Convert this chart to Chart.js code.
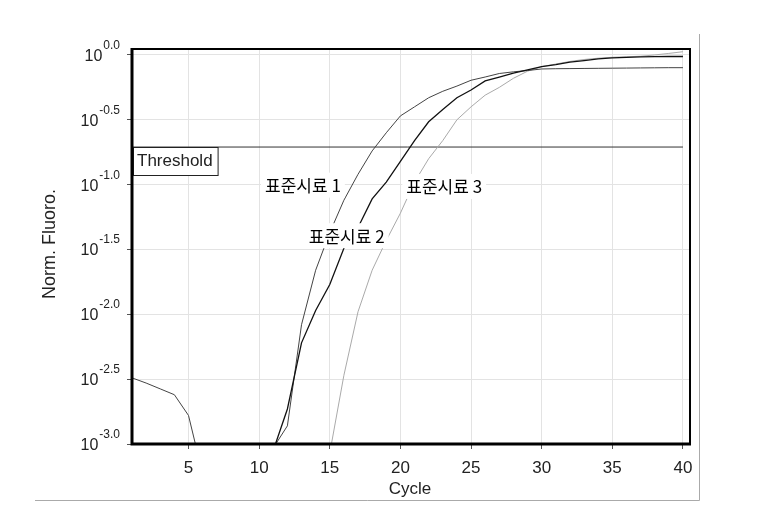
<!DOCTYPE html>
<html>
<head>
<meta charset="utf-8">
<script src="https://cdn.jsdelivr.net/npm/chart.js@4"></script>
<style>
  html, body { margin: 0; padding: 0; background: #fff; }
</style>
</head>
<body>
<canvas id="grafico" width="769" height="513"></canvas>
<script>
// ciclos e valores (log10 da fluorescência normalizada)
const cycles = [1, 2, 3, 4, 5, 6, 7, 8, 9, 10, 11, 12, 13, 14, 15, 16, 17, 18, 19, 20,
  21, 22, 23, 24, 25, 26, 27, 28, 29, 30, 31, 32, 33, 34, 35, 36, 37, 38, 39, 40];

const amostra1 = [-2.49, -2.53, -2.575, -2.62, -2.78, -3.23, null, null, null, null,
  -3.03, -2.86, -2.08, -1.66, -1.37, -1.12, -0.92, -0.74, -0.60, -0.47,
  -0.40, -0.33, -0.28, -0.24, -0.195, -0.17, -0.143, -0.13, -0.12, -0.108,
  -0.106, -0.105, -0.104, -0.103, -0.102, -0.101, -0.100, -0.099, -0.098, -0.098];

const amostra2 = [null, null, null, null, null, null, null, null, null, null,
  -3.05, -2.73, -2.22, -1.97, -1.77, -1.49, -1.33, -1.11, -0.98, -0.82,
  -0.66, -0.515, -0.42, -0.33, -0.27, -0.20, -0.17, -0.14, -0.115, -0.09,
  -0.075, -0.055, -0.043, -0.03, -0.023, -0.018, -0.014, -0.013, -0.012, -0.012];

const amostra3 = [null, null, null, null, null, null, null, null, null, null,
  null, null, null, null, -3.07, -2.47, -1.98, -1.66, -1.43, -1.22,
  -0.98, -0.80, -0.66, -0.50, -0.40, -0.31, -0.25, -0.18, -0.125, -0.09,
  -0.07, -0.05, -0.035, -0.025, -0.018, -0.014, -0.01, 0.0, 0.012, 0.025];

const thresholdLog = -0.71;
const thresholdCycles = [1, 40];

const xTicks = [5, 10, 15, 20, 25, 30, 35, 40];
const yTickExps = [-3.0, -2.5, -2.0, -1.5, -1.0, -0.5, 0.0];

const nomes = ['표준시료 1', '표준시료 2', '표준시료 3'];
const rotuloCiclo = [13.1, 16.2, 23.1];
const rotuloLog = [-1.0, -1.39, -1.01];

const fonte = '"Liberation Sans", Arial, sans-serif';
const paraPontos = (serie) => cycles.map((c, i) => ({ x: c, y: serie[i] === null ? null : Math.pow(10, serie[i]) }));

const desenho = {
  id: 'desenho',
  beforeDraw(chart) {
    const ctx = chart.ctx;
    ctx.save();
    ctx.fillStyle = '#fff';
    ctx.fillRect(0, 0, chart.width, chart.height);
    ctx.restore();
  },
  afterDatasetsDraw(chart) {
    const ctx = chart.ctx;
    const sx = chart.scales.x, sy = chart.scales.y;
    const a = chart.chartArea;
    ctx.save();
    // rótulos das amostras com fundo branco
    ctx.font = '17px "Noto Sans CJK KR", sans-serif';
    ctx.textAlign = 'center';
    ctx.textBaseline = 'middle';
    nomes.forEach((n, i) => {
      const px = sx.getPixelForValue(rotuloCiclo[i]);
      const py = sy.getPixelForValue(Math.pow(10, rotuloLog[i]));
      const w = ctx.measureText(n).width;
      ctx.fillStyle = '#fff';
      ctx.fillRect(px - w / 2 - 4, py - 12, w + 8, 25);
      ctx.fillStyle = '#000';
      ctx.fillText(n, px, py + 1);
    });
    // caixa do threshold
    const ty = Math.round(sy.getPixelForValue(Math.pow(10, thresholdLog))) + 0.5;
    ctx.font = '17px ' + fonte;
    const tw = ctx.measureText('Threshold').width;
    ctx.fillStyle = '#fff';
    ctx.fillRect(a.left + 1, ty, tw + 9, 28);
    ctx.strokeStyle = '#222';
    ctx.lineWidth = 1;
    ctx.strokeRect(a.left + 1.5, ty, tw + 9, 28);
    ctx.fillStyle = '#222';
    ctx.textAlign = 'left';
    ctx.fillText('Threshold', a.left + 5, ty + 14);
    ctx.restore();
  },
  afterDraw(chart) {
    const ctx = chart.ctx;
    const a = chart.chartArea;
    const sy = chart.scales.y;
    ctx.save();
    // moldura do gráfico
    ctx.strokeStyle = '#000';
    ctx.lineWidth = 2;
    ctx.beginPath();
    ctx.moveTo(a.left, a.top);
    ctx.lineTo(a.right, a.top);
    ctx.lineTo(a.right, a.bottom);
    ctx.stroke();
    ctx.lineWidth = 3;
    ctx.beginPath();
    ctx.moveTo(a.left, a.top - 1);
    ctx.lineTo(a.left, a.bottom);
    ctx.lineTo(a.right + 1, a.bottom);
    ctx.stroke();
    // moldura cinzenta exterior
    ctx.strokeStyle = '#aaa';
    ctx.lineWidth = 1;
    ctx.beginPath();
    ctx.moveTo(699.5, 34);
    ctx.lineTo(699.5, 500.5);
    ctx.lineTo(35, 500.5);
    ctx.stroke();
    // rótulos do eixo y: 10 com expoente
    ctx.fillStyle = '#222';
    ctx.textAlign = 'right';
    ctx.textBaseline = 'alphabetic';
    yTickExps.forEach(e => {
      const py = sy.getPixelForValue(Math.pow(10, e));
      const sup = e.toFixed(1);
      ctx.font = '12px ' + fonte;
      const sw = ctx.measureText(sup).width;
      ctx.fillText(sup, 120, py - 6);
      ctx.font = '16px ' + fonte;
      ctx.fillText('10', 120 - sw - 1, py + 6);
    });
    // títulos dos eixos
    ctx.font = '17px ' + fonte;
    ctx.textAlign = 'center';
    ctx.textBaseline = 'middle';
    ctx.fillText('Cycle', 410, 489);
    ctx.font = '18px ' + fonte;
    ctx.translate(50, 244);
    ctx.rotate(-Math.PI / 2);
    ctx.fillText('Norm. Fluoro.', 0, 0);
    ctx.restore();
  }
};

const ctx = document.getElementById('grafico').getContext('2d');
const grafico = new Chart(ctx, {
  type: 'line',
  data: {
    datasets: [
      {
        label: nomes[1],
        data: paraPontos(amostra2),
        borderColor: '#111',
        borderWidth: 1.3,
        order: 0
      },
      {
        label: nomes[0],
        data: paraPontos(amostra1),
        borderColor: '#444',
        borderWidth: 1,
        order: 1
      },
      {
        label: nomes[2],
        data: paraPontos(amostra3),
        borderColor: '#aaa',
        borderWidth: 1,
        order: 2
      },
      {
        label: 'Threshold',
        data: thresholdCycles.map(c => ({ x: c, y: Math.pow(10, thresholdLog) })),
        borderColor: '#333',
        borderWidth: 1,
        order: 3
      }
    ]
  },
  options: {
    responsive: false,
    animation: false,
    layout: { padding: { top: 49, right: 79, left: 0, bottom: 0 } },
    elements: { point: { radius: 0 }, line: { tension: 0 } },
    plugins: {
      legend: { display: false },
      tooltip: { enabled: false }
    },
    scales: {
      x: {
        type: 'linear',
        min: 1,
        max: 40.5,
        afterBuildTicks: (scale) => { scale.ticks = xTicks.map(v => ({ value: v })); },
        afterFit: (scale) => { scale.height = 69; },
        grid: { color: '#e3e3e3', tickColor: '#555', tickLength: 5 },
        border: { display: false },
        ticks: {
          color: '#222',
          padding: 9,
          maxRotation: 0,
          font: { family: fonte, size: 17 }
        }
      },
      y: {
        type: 'logarithmic',
        min: Math.pow(10, -3),
        max: Math.pow(10, 0.046),
        afterBuildTicks: (scale) => { scale.ticks = yTickExps.map(e => ({ value: Math.pow(10, e) })); },
        afterFit: (scale) => { scale.width = 132; },
        grid: { color: '#e3e3e3', tickColor: '#555', tickLength: 5 },
        border: { display: false },
        ticks: { callback: () => '' }
      }
    }
  },
  plugins: [desenho]
});
</script>
</body>
</html>
